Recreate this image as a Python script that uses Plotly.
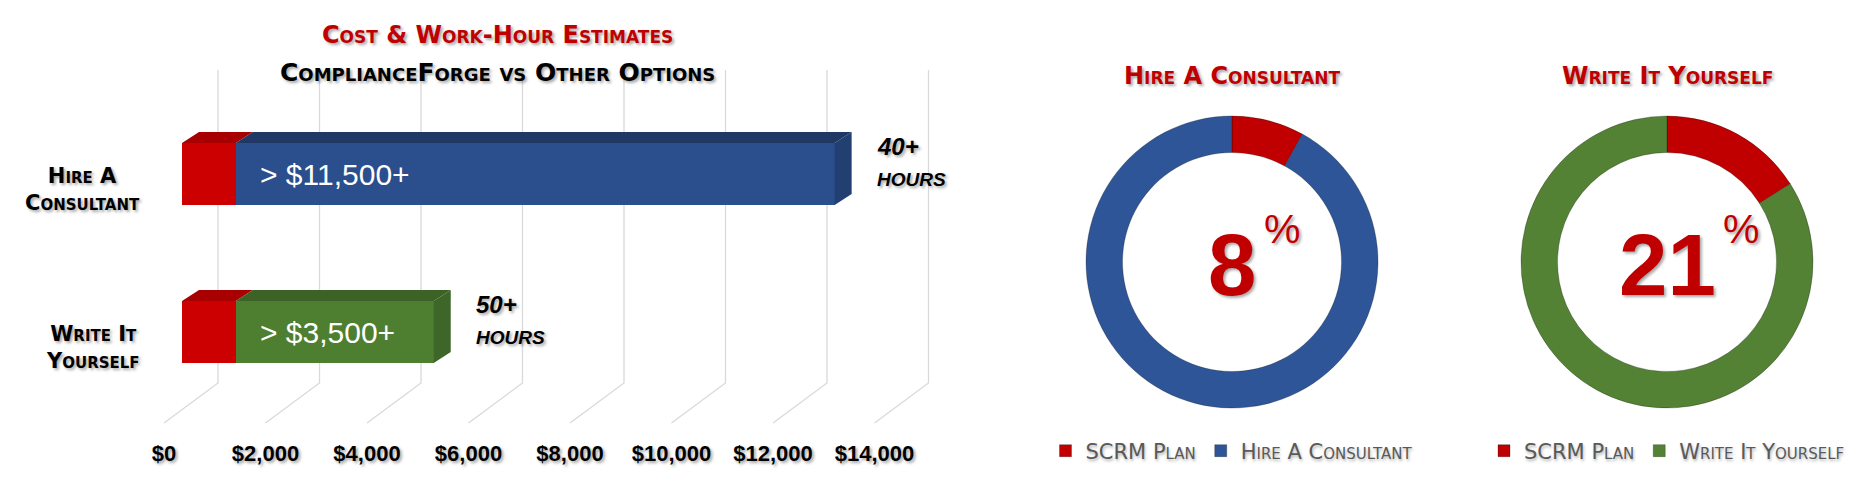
import html
import plotly.graph_objects as go

W, H = 1873, 490

# ---------------- data ----------------
categories = ["Hire A Consultant", "Write It Yourself"]
category_labels = ["Hire A<br>Consultant", "Write It<br>Yourself"]
scrm_cost = [1060, 1060]            # red segment (SCRM Plan)
other_cost = [11800, 3900]          # blue / green segment
bar_text = ["> $11,500+", "> $3,500+"]
hours_text = ["40+", "50+"]
hours_unit = ["HOURS", "HOURS"]
x_ticks = [0, 2000, 4000, 6000, 8000, 10000, 12000, 14000]
x_tick_labels = ["$0", "$2,000", "$4,000", "$6,000", "$8,000", "$10,000", "$12,000", "$14,000"]

pie_titles = ["Hire A Consultant", "Write It Yourself"]
# second pie uses a no-break space so both legends keep their own "SCRM Plan" entry
pie_labels = [["SCRM Plan", "Hire A Consultant"], ["SCRM\u00a0Plan", "Write It Yourself"]]
pie_values = [[8, 92], [16, 84]]
pie_center_text = ["8", "21"]

# ---------------- styles ----------------
FONT = "Arial, 'Liberation Sans', sans-serif"
SC_FONT = "'DejaVu Sans', sans-serif"
RED = "#C00000"
SHADOW = "2px 2px 3px rgba(0,0,0,0.35)"
front_red = "#CC0000"
front_other = ["#2B4E8C", "#4E7E30"]
top_red = "#A80000"
top_other = ["#1F3864", "#3C6325"]
side_other = ["#223F72", "#3E6628"]
pie_colors = [[RED, "#2E5597"], [RED, "#548235"]]

# ---------------- geometry (pixels) ----------------
PX_PER_K = 50.75                 # pixels per $1,000
XDOM = (130, 990)
TICK_ZERO_PX = 164               # front of the floor
BAR_ZERO_PX = 182                # front face of bars


def x_range(zero_px):
    r0 = -(zero_px - XDOM[0]) / PX_PER_K * 1000
    return [r0, r0 + (XDOM[1] - XDOM[0]) / PX_PER_K * 1000]


Y1_PX, PX_PER_Y = 174, 158.0
Y_RANGE = [-0.6, 1.7]


def ypx(v):
    return Y1_PX - (v - 1) * PX_PER_Y


def px2y(p):
    return 1 - (p - Y1_PX) / PX_PER_Y


y_dom = [1 - ypx(Y_RANGE[0]) / H, 1 - ypx(Y_RANGE[1]) / H]
BAR_W = 62 / PX_PER_Y
DX = 17 / PX_PER_K * 1000
DY = 11 / PX_PER_Y
BACK_DX = 54 / PX_PER_K * 1000
Y_TOP, Y_BACK, Y_FRONT = px2y(70), px2y(383), px2y(423)

bar_y = [1, 0]

fig = go.Figure()

# front faces
fig.add_trace(go.Bar(y=bar_y, x=scrm_cost, orientation="h", width=BAR_W,
                     marker=dict(color=front_red, line=dict(width=0)),
                     showlegend=False, hoverinfo="skip", xaxis="x", yaxis="y"))
fig.add_trace(go.Bar(y=bar_y, x=other_cost, orientation="h", width=BAR_W,
                     marker=dict(color=front_other, line=dict(width=0)),
                     showlegend=False, hoverinfo="skip", xaxis="x", yaxis="y"))

# top and side faces
for i, yv in enumerate(bar_y):
    yt = yv + BAR_W / 2
    yb = yv - BAR_W / 2
    segs = [(0, scrm_cost[i], top_red), (scrm_cost[i], scrm_cost[i] + other_cost[i], top_other[i])]
    for x0, x1, col in segs:
        fig.add_trace(go.Scatter(x=[x0, x1, x1 + DX, x0 + DX, x0],
                                 y=[yt, yt, yt + DY, yt + DY, yt],
                                 fill="toself", fillcolor=col, mode="lines",
                                 line=dict(width=0, color=col), showlegend=False,
                                 hoverinfo="skip", xaxis="x", yaxis="y"))
    xe = scrm_cost[i] + other_cost[i]
    fig.add_trace(go.Scatter(x=[xe, xe, xe + DX, xe + DX, xe],
                             y=[yb, yt, yt + DY, yb + DY, yb],
                             fill="toself", fillcolor=side_other[i], mode="lines",
                             line=dict(width=0, color=side_other[i]), showlegend=False,
                             hoverinfo="skip", xaxis="x", yaxis="y"))

# tick axis carrier (invisible)
fig.add_trace(go.Scatter(x=x_ticks, y=[None] * len(x_ticks), mode="markers",
                         showlegend=False, hoverinfo="skip", xaxis="x2", yaxis="y"))

# perspective gridlines
shapes = []
for v in x_ticks:
    shapes.append(dict(type="path", xref="x2", yref="y", layer="below",
                       path=f"M {v + BACK_DX},{Y_TOP} L {v + BACK_DX},{Y_BACK} L {v},{Y_FRONT}",
                       line=dict(color="#D9D9D9", width=1.3)))

# pies
pie_cx = [1232, 1667]
PIE_R = 146
PIE_CY = 262
for k in range(2):
    fig.add_trace(go.Pie(labels=pie_labels[k], values=pie_values[k], hole=0.75,
                         sort=False, direction="clockwise", rotation=0,
                         textinfo="none", hoverinfo="label+percent",
                         marker=dict(colors=pie_colors[k], line=dict(color="rgba(0,0,0,0.25)", width=1)),
                         domain=dict(x=[(pie_cx[k] - PIE_R) / W, (pie_cx[k] + PIE_R) / W],
                                     y=[1 - (PIE_CY + PIE_R) / H, 1 - (PIE_CY - PIE_R) / H]),
                         legend="legend" if k == 0 else "legend2"))

ann = []


def font(size, color="black", weight="normal", variant="normal", style="normal", shadow=SHADOW,
         family=FONT):
    return dict(family=family, size=size, color=color, weight=weight, variant=variant,
                style=style, shadow=shadow)


# bar chart titles
ann.append(dict(text="Cost & Work-Hour Estimates", x=497 / W, y=1 - 35 / H, xref="paper", yref="paper",
                xanchor="center", yanchor="middle", showarrow=False,
                font=font(24, RED, "bold", "small-caps", family=SC_FONT)))
ann.append(dict(text="ComplianceForge vs Other Options", x=497 / W, y=1 - 72 / H, xref="paper",
                yref="paper", xanchor="center", yanchor="middle", showarrow=False,
                font=font(25, "black", "bold", "small-caps", family=SC_FONT)))

for i, yv in enumerate(bar_y):
    ann.append(dict(text=category_labels[i], x=142 / W, xref="paper", y=yv, yref="y",
                    xanchor="right", yanchor="middle", yshift=-15, align="center", showarrow=False,
                    font=font(21, "black", "bold", "small-caps", family=SC_FONT)))
    ann.append(dict(text=html.escape(bar_text[i]), x=scrm_cost[i], xref="x", y=yv, yref="y",
                    xanchor="left", yanchor="middle", xshift=22, showarrow=False,
                    font=font(30, "white", shadow="none")))
    xe = scrm_cost[i] + other_cost[i]
    ann.append(dict(text=f"<b><i>{hours_text[i]}</i></b>", x=xe, xref="x", y=yv, yref="y",
                    xanchor="left", yanchor="middle", xshift=40, yshift=28, showarrow=False,
                    font=font(24, "black", "bold", style="italic")))
    ann.append(dict(text=f"<b><i>{hours_unit[i]}</i></b>", x=xe, xref="x", y=yv, yref="y",
                    xanchor="left", yanchor="middle", xshift=40, yshift=-5, showarrow=False,
                    font=font(19, "black", "bold", style="italic")))

for k in range(2):
    ann.append(dict(text=pie_titles[k], x=pie_cx[k] / W, y=1 - 76 / H, xref="paper", yref="paper",
                    xanchor="center", yanchor="middle", showarrow=False,
                    font=font(24, RED, "bold", "small-caps", family=SC_FONT)))
    ann.append(dict(text=pie_center_text[k], x=pie_cx[k] / W, y=1 - 264 / H, xref="paper", yref="paper",
                    xanchor="center", yanchor="middle", showarrow=False, font=font(87, RED, "bold")))
    ann.append(dict(text="%", x=pie_cx[k] / W, y=1 - 229 / H, xref="paper", yref="paper",
                    xanchor="left", yanchor="middle", xshift=len(pie_center_text[k]) * 0.278 * 87 + 6,
                    showarrow=False, font=font(41, RED)))

legend_common = dict(orientation="h", xanchor="center", yanchor="middle", y=1 - 451 / H,
                     bgcolor="rgba(0,0,0,0)", traceorder="normal",
                     font=dict(family=SC_FONT, size=21, color="#595959", variant="small-caps",
                               shadow="1px 2px 3px rgba(0,0,0,0.3)"))

fig.update_layout(
    width=W, height=H,
    margin=dict(l=0, r=0, t=0, b=0),
    paper_bgcolor="white", plot_bgcolor="rgba(0,0,0,0)",
    barmode="stack", bargap=0,
    showlegend=True,
    xaxis=dict(domain=[XDOM[0] / W, XDOM[1] / W], range=x_range(BAR_ZERO_PX), visible=False,
               fixedrange=True),
    xaxis2=dict(domain=[XDOM[0] / W, XDOM[1] / W], range=x_range(TICK_ZERO_PX), overlaying="x",
                anchor="y", side="bottom", tickmode="array", tickvals=x_ticks, ticktext=x_tick_labels,
                showgrid=False, zeroline=False, showline=False, ticks="", ticklabelstandoff=11,
                tickfont=font(22, "black", "bold"), fixedrange=True),
    yaxis=dict(domain=y_dom, range=Y_RANGE, visible=False, fixedrange=True),
    legend=dict(x=pie_cx[0] / W, **legend_common),
    legend2=dict(x=pie_cx[1] / W, **legend_common),
    annotations=ann,
    shapes=shapes,
)

fig.write_html("out.html")
